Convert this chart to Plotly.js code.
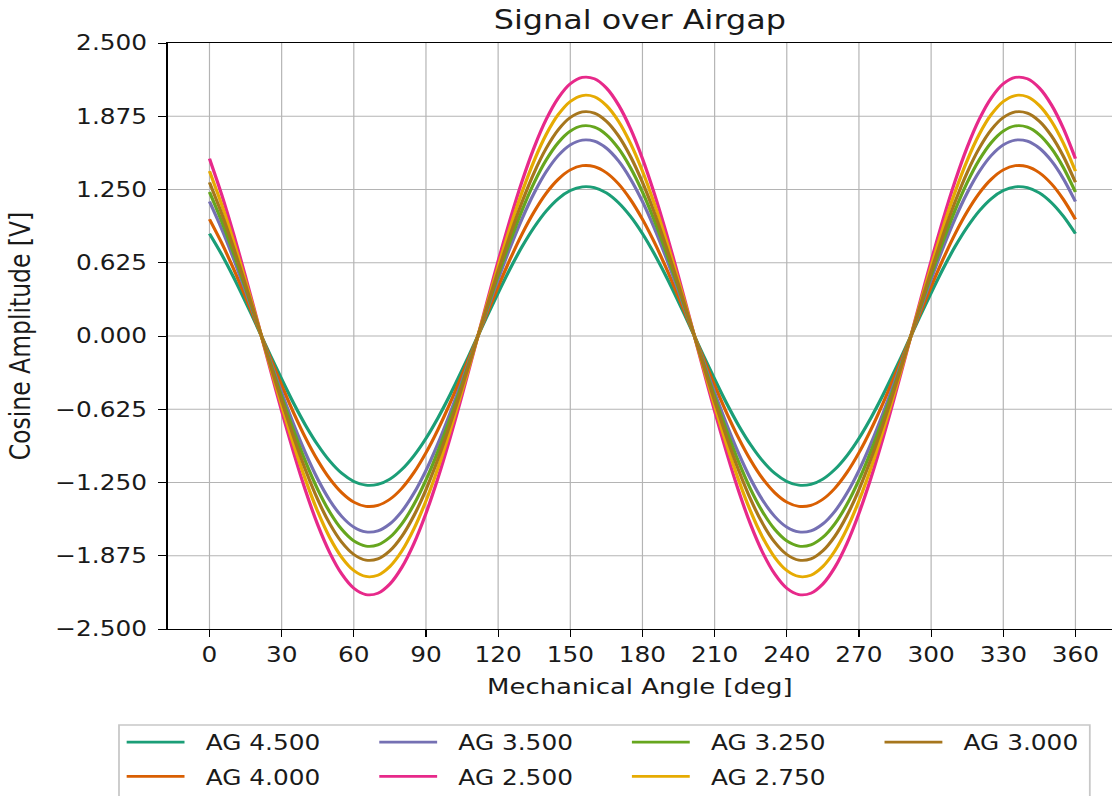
<!DOCTYPE html>
<html><head><meta charset="utf-8">
<script src="https://cdn.plot.ly/plotly-3.0.1.min.js"></script>
<style>
html,body{margin:0;padding:0;overflow:hidden;background:#fff;width:1112px;height:796px}
#wrap{width:942px;height:796px;transform:scaleX(1.18047);transform-origin:0 0}
#chart .gridlayer path{shape-rendering:geometricPrecision !important}
</style></head><body>
<div id="wrap"><div id="chart" style="width:942px;height:796px"></div></div>
<script>
// Mechanical angle samples [deg]
const angles = [0,5,10,15,20,25,30,35,40,45,50,55,60,65,70,75,80,85,90,95,100,105,110,115,120,125,130,135,140,145,150,155,160,165,170,175,180,185,190,195,200,205,210,215,220,225,230,235,240,245,250,255,260,265,270,275,280,285,290,295,300,305,310,315,320,325,330,335,340,345,350,355,360];

// Cosine amplitude [V] per airgap
const ag4500 = [0.873,0.698,0.502,0.291,0.071,-0.151,-0.368,-0.575,-0.764,-0.929,-1.067,-1.172,-1.241,-1.273,-1.266,-1.221,-1.138,-1.021,-0.873,-0.698,-0.502,-0.291,-0.071,0.151,0.368,0.575,0.764,0.929,1.067,1.172,1.241,1.273,1.266,1.221,1.138,1.021,0.873,0.698,0.502,0.291,0.071,-0.151,-0.368,-0.575,-0.764,-0.929,-1.067,-1.172,-1.241,-1.273,-1.266,-1.221,-1.138,-1.021,-0.873,-0.698,-0.502,-0.291,-0.071,0.151,0.368,0.575,0.764,0.929,1.067,1.172,1.241,1.273,1.266,1.221,1.138,1.021,0.873];
const ag4000 = [0.996,0.797,0.573,0.332,0.081,-0.172,-0.420,-0.656,-0.872,-1.061,-1.218,-1.337,-1.417,-1.453,-1.445,-1.393,-1.299,-1.165,-0.996,-0.797,-0.573,-0.332,-0.081,0.172,0.420,0.656,0.872,1.061,1.218,1.337,1.417,1.453,1.445,1.393,1.299,1.165,0.996,0.797,0.573,0.332,0.081,-0.172,-0.420,-0.656,-0.872,-1.061,-1.218,-1.337,-1.417,-1.453,-1.445,-1.393,-1.299,-1.165,-0.996,-0.797,-0.573,-0.332,-0.081,0.172,0.420,0.656,0.872,1.061,1.218,1.337,1.417,1.453,1.445,1.393,1.299,1.165,0.996];
const ag3500 = [1.147,0.917,0.660,0.383,0.093,-0.198,-0.484,-0.755,-1.003,-1.221,-1.402,-1.540,-1.631,-1.672,-1.663,-1.603,-1.495,-1.341,-1.147,-0.917,-0.660,-0.383,-0.093,0.198,0.484,0.755,1.003,1.221,1.402,1.540,1.631,1.672,1.663,1.603,1.495,1.341,1.147,0.917,0.660,0.383,0.093,-0.198,-0.484,-0.755,-1.003,-1.221,-1.402,-1.540,-1.631,-1.672,-1.663,-1.603,-1.495,-1.341,-1.147,-0.917,-0.660,-0.383,-0.093,0.198,0.484,0.755,1.003,1.221,1.402,1.540,1.631,1.672,1.663,1.603,1.495,1.341,1.147];
const ag2500 = [1.513,1.210,0.871,0.505,0.123,-0.262,-0.639,-0.996,-1.324,-1.611,-1.849,-2.031,-2.152,-2.206,-2.195,-2.116,-1.973,-1.770,-1.513,-1.210,-0.871,-0.505,-0.123,0.262,0.639,0.996,1.324,1.611,1.849,2.031,2.152,2.206,2.195,2.116,1.973,1.770,1.513,1.210,0.871,0.505,0.123,-0.262,-0.639,-0.996,-1.324,-1.611,-1.849,-2.031,-2.152,-2.206,-2.195,-2.116,-1.973,-1.770,-1.513,-1.210,-0.871,-0.505,-0.123,0.262,0.639,0.996,1.324,1.611,1.849,2.031,2.152,2.206,2.195,2.116,1.973,1.770,1.513];
const ag3250 = [1.229,0.983,0.707,0.410,0.100,-0.213,-0.519,-0.809,-1.075,-1.309,-1.502,-1.650,-1.748,-1.792,-1.782,-1.718,-1.602,-1.437,-1.229,-0.983,-0.707,-0.410,-0.100,0.213,0.519,0.809,1.075,1.309,1.502,1.650,1.748,1.792,1.782,1.718,1.602,1.437,1.229,0.983,0.707,0.410,0.100,-0.213,-0.519,-0.809,-1.075,-1.309,-1.502,-1.650,-1.748,-1.792,-1.782,-1.718,-1.602,-1.437,-1.229,-0.983,-0.707,-0.410,-0.100,0.213,0.519,0.809,1.075,1.309,1.502,1.650,1.748,1.792,1.782,1.718,1.602,1.437,1.229];
const ag2750 = [1.407,1.125,0.809,0.469,0.115,-0.243,-0.594,-0.927,-1.231,-1.498,-1.720,-1.889,-2.001,-2.052,-2.041,-1.967,-1.834,-1.645,-1.407,-1.125,-0.809,-0.469,-0.115,0.243,0.594,0.927,1.231,1.498,1.720,1.889,2.001,2.052,2.041,1.967,1.834,1.645,1.407,1.125,0.809,0.469,0.115,-0.243,-0.594,-0.927,-1.231,-1.498,-1.720,-1.889,-2.001,-2.052,-2.041,-1.967,-1.834,-1.645,-1.407,-1.125,-0.809,-0.469,-0.115,0.243,0.594,0.927,1.231,1.498,1.720,1.889,2.001,2.052,2.041,1.967,1.834,1.645,1.407];
const ag3000 = [1.311,1.049,0.754,0.437,0.107,-0.227,-0.553,-0.863,-1.147,-1.396,-1.602,-1.760,-1.864,-1.912,-1.902,-1.833,-1.709,-1.533,-1.311,-1.049,-0.754,-0.437,-0.107,0.227,0.553,0.863,1.147,1.396,1.602,1.760,1.864,1.912,1.902,1.833,1.709,1.533,1.311,1.049,0.754,0.437,0.107,-0.227,-0.553,-0.863,-1.147,-1.396,-1.602,-1.760,-1.864,-1.912,-1.902,-1.833,-1.709,-1.533,-1.311,-1.049,-0.754,-0.437,-0.107,0.227,0.553,0.863,1.147,1.396,1.602,1.760,1.864,1.912,1.902,1.833,1.709,1.533,1.311];

const seriesNames  = ['AG 4.500','AG 4.000','AG 3.500','AG 2.500','AG 3.250','AG 2.750','AG 3.000'];
const seriesValues = [ag4500, ag4000, ag3500, ag2500, ag3250, ag2750, ag3000];
const seriesColors = ['#1b9e77','#d95f02','#7570b3','#e7298a','#66a61e','#e6ab02','#a6761d'];
const legendRanks  = [1,5,2,6,3,7,4];

const xTicks = [0,30,60,90,120,150,180,210,240,270,300,330,360];
const yTicks = [-2.5,-1.875,-1.25,-0.625,0,0.625,1.25,1.875,2.5];

const traces = seriesNames.map((n,i)=>({
  type:'scatter', mode:'lines', name:n, x:angles, y:seriesValues[i],
  line:{color:seriesColors[i], width:2.8, shape:'spline', smoothing:0.8},
  legendrank:legendRanks[i], hoverinfo:'x+y+name'
}));

const FONT = 'DejaVu Sans, Verdana, sans-serif';
const layout = {
  width:942, height:796,
  paper_bgcolor:'#fff', plot_bgcolor:'#fff',
  font:{family:FONT, color:'#1a1a1a', size:21},
  margin:{l:142, r:0, t:43, b:167, autoexpand:false},
  title:{text:'Signal over Airgap', font:{family:FONT, size:27, color:'#1a1a1a'},
         x:0.5, xref:'paper', xanchor:'center', y:1-20/796, yref:'container', yanchor:'middle'},
  xaxis:{range:[-17.4,375.2], tickmode:'array', tickvals:xTicks,
         ticks:'outside', ticklen:7, tickwidth:1.3, tickcolor:'#000',
         showline:true, linecolor:'#000', linewidth:1.4, mirror:true,
         showgrid:true, gridcolor:'#b4b4b4', gridwidth:1.3, zeroline:false,
         automargin:false, tickfont:{size:21},
         title:{text:'Mechanical Angle [deg]', font:{size:22}, standoff:12}},
  yaxis:{range:[-2.5,2.5], tickmode:'array', tickvals:yTicks, tickformat:'.3f',
         ticks:'outside', ticklen:7, tickwidth:1.3, tickcolor:'#000',
         showline:true, linecolor:'#000', linewidth:1.4, mirror:false,
         showgrid:true, gridcolor:'#b4b4b4', gridwidth:1.4, zeroline:false,
         automargin:false, tickfont:{size:21}, ticklabelstandoff:5,
         title:{text:'Cosine Amplitude [V]', font:{size:23.5}, standoff:14}},
  shapes:[{type:'rect', xref:'paper', yref:'paper', x0:-0.0515, x1:0.9765, y0:-0.31, y1:-0.1638,
           line:{color:'#c8c8c8', width:1.5}, fillcolor:'#ffffff', layer:'above'}],
  showlegend:true,
  legend:{orientation:'h', x:-0.0515, xanchor:'left', y:-0.1638, yanchor:'top',
          bgcolor:'rgba(0,0,0,0)', bordercolor:'rgba(0,0,0,0)', borderwidth:0,
          font:{size:21}, itemwidth:62, entrywidth:137, entrywidthmode:'pixels',
          traceorder:'normal'}
};

function tidyLegend(gd){
  gd.querySelectorAll('.legend path.js-line').forEach(p=>p.setAttribute('d','M5,0h49'));
  if (gd.dataset.shifted) return;
  const items = Array.from(gd.querySelectorAll('.legend g.traces'));
  const pos = items.map(g=>{
    const m = /translate\(\s*([-\d.]+)[ ,]+([-\d.]+)\s*\)/.exec(g.getAttribute('transform')||'');
    return m ? [parseFloat(m[1]), parseFloat(m[2])] : null;
  });
  const valid = pos.filter(v=>v);
  if (!valid.length) return;
  const minY = Math.min(...valid.map(v=>v[1]));
  items.forEach((g,i)=>{
    const v = pos[i]; if(!v) return;
    const dy = Math.abs(v[1]-minY) < 1 ? -3 : 1;
    g.setAttribute('transform', `translate(${v[0]+1.5},${v[1]+dy})`);
  });
  gd.dataset.shifted = '1';
}

Plotly.newPlot('chart', traces, layout, {displayModeBar:false, responsive:false}).then(gd=>{
  tidyLegend(gd);
});
</script>
</body></html>
